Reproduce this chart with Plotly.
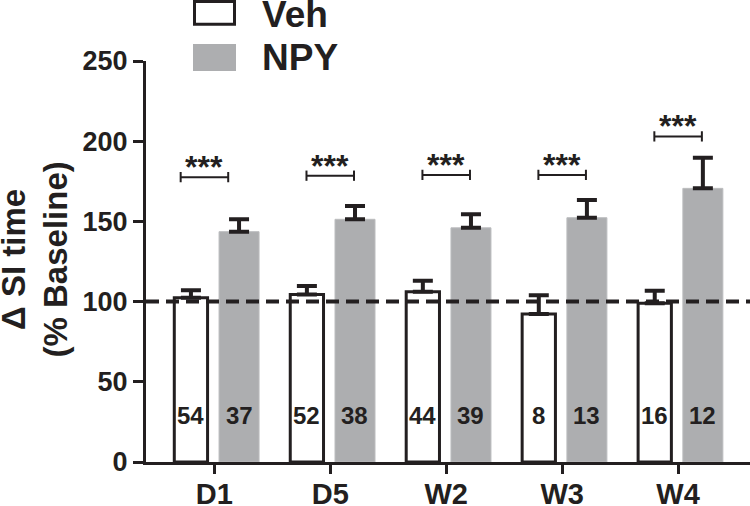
import plotly.graph_objects as go

# ---------------- data ----------------
categories = ["D1", "D5", "W2", "W3", "W4"]
veh_mean = [102.4, 104.5, 106.2, 92.3, 98.9]
veh_sem = [4.6, 5.2, 6.8, 11.7, 7.9]
npy_mean = [143.6, 151.3, 146.0, 152.3, 170.6]
npy_sem = [7.7, 8.3, 8.4, 11.0, 19.1]
veh_n = [54, 52, 44, 8, 16]
npy_n = [37, 38, 39, 13, 12]
sig_labels = ["***", "***", "***", "***", "***"]
sig_y = [177.6, 178.5, 179.0, 179.0, 203.0]
baseline = 100
y_ticks = [0, 50, 100, 150, 200, 250]

# ---------------- style ----------------
FONT = "Liberation Sans, Arial, Helvetica, sans-serif"
INK = "#231f20"
GREY = "#adaeb0"
L, R, T, B = 146, 0, 61, 44
W, H = 750, 506
PW, PH = W - L - R, H - T - B

def px_x(p):
    return (p - L) / PW

def px_y(p):
    return (H - B - p) / PH

fig = go.Figure()
fig.add_trace(go.Bar(
    x=categories, y=veh_mean, name="Veh",
    width=0.287, offset=-0.345,
    marker=dict(color="white", line=dict(color=INK, width=3)),
    error_y=dict(type="data", symmetric=False, array=veh_sem,
                 arrayminus=[0] * len(veh_sem), color=INK, thickness=4, width=10),
    showlegend=False,
))
fig.add_trace(go.Bar(
    x=categories, y=npy_mean, name="NPY",
    width=0.345, offset=0.041,
    marker=dict(color=GREY, line=dict(color="#bcbdbf", width=1)),
    error_y=dict(type="data", symmetric=False, array=npy_sem,
                 arrayminus=[0] * len(npy_sem), color=INK, thickness=4, width=10),
    showlegend=False,
))

shapes = []
annotations = []

# baseline dashed line
shapes.append(dict(type="line", xref="paper", yref="y", x0=0, x1=1,
                   y0=baseline, y1=baseline, layer="above",
                   line=dict(color=INK, width=4, dash="13px,7px")))

# significance brackets
shift = {"D1": -0.085}
half = 0.205
tick_h = 3.2
for i, c in enumerate(categories):
    cx = i + shift.get(c, 0.0)
    y = sig_y[i]
    shapes.append(dict(type="line", xref="x", yref="y", x0=cx - half, x1=cx + half,
                       y0=y, y1=y, line=dict(color=INK, width=2)))
    for xe in (cx - half, cx + half):
        shapes.append(dict(type="line", xref="x", yref="y", x0=xe, x1=xe,
                           y0=y - tick_h, y1=y + tick_h, line=dict(color=INK, width=2)))
    annotations.append(dict(x=cx, y=y, xref="x", yref="y", text=sig_labels[i],
                            showarrow=False, yanchor="middle", yshift=10,
                            font=dict(family=FONT, size=32, color=INK, weight="bold")))

# n labels in bars
n_y = 28.7
for i, c in enumerate(categories):
    annotations.append(dict(x=i, y=n_y, xref="x", yref="y", text=str(veh_n[i]),
                            showarrow=False, xshift=-23.4, yanchor="middle",
                            font=dict(family=FONT, size=24, color=INK, weight="bold")))
    annotations.append(dict(x=i, y=n_y, xref="x", yref="y", text=str(npy_n[i]),
                            showarrow=False, xshift=24.7, yanchor="middle",
                            font=dict(family=FONT, size=24, color=INK, weight="bold")))

# legend (drawn)
shapes.append(dict(type="rect", xref="paper", yref="paper",
                   x0=px_x(194.5), x1=px_x(234.5), y0=px_y(24.3), y1=px_y(1.5),
                   fillcolor="white", line=dict(color=INK, width=3)))
shapes.append(dict(type="rect", xref="paper", yref="paper",
                   x0=px_x(193), x1=px_x(236), y0=px_y(71), y1=px_y(44),
                   fillcolor=GREY, line=dict(width=0)))
annotations.append(dict(x=px_x(260), y=px_y(14), xref="paper", yref="paper",
                        text="Veh", showarrow=False, xanchor="left", yanchor="middle",
                        font=dict(family=FONT, size=37, color=INK, weight="bold")))
annotations.append(dict(x=px_x(260), y=px_y(58), xref="paper", yref="paper",
                        text="NPY", showarrow=False, xanchor="left", yanchor="middle",
                        font=dict(family=FONT, size=37, color=INK, weight="bold")))

# y axis title
annotations.append(dict(x=px_x(34.5), y=px_y(260), xref="paper", yref="paper",
                        text="\u0394 SI time<br>(% Baseline)", textangle=-90,
                        showarrow=False, xanchor="center", yanchor="middle",
                        font=dict(family=FONT, size=33, color=INK, weight="bold")))

fig.update_layout(
    template="none",
    width=W, height=H,
    margin=dict(l=L, r=R, t=T, b=B, pad=0, autoexpand=False),
    paper_bgcolor="white", plot_bgcolor="white",
    barmode="overlay",
    shapes=shapes, annotations=annotations,
    font=dict(family=FONT, color=INK),
    hovermode=False,
    xaxis=dict(type="category", categoryorder="array", categoryarray=categories,
               range=[-0.589, 4.62], showline=True, linecolor=INK, linewidth=3,
               ticks="outside", ticklen=9, tickwidth=3, tickcolor=INK,
               ticklabelstandoff=-5,
               showgrid=False, zeroline=False, automargin=False,
               tickfont=dict(family=FONT, size=29, color=INK, weight="bold")),
    yaxis=dict(range=[0, 250], tickvals=y_ticks, showline=True, linecolor=INK,
               linewidth=3, ticks="outside", ticklen=10, tickwidth=3, tickcolor=INK,
               showgrid=False, zeroline=False, automargin=False,
               tickfont=dict(family=FONT, size=27, color=INK, weight="bold")),
)

fig.write_html(
    "out.html",
    config={"displayModeBar": False, "staticPlot": True},
    post_script="document.body.style.margin='0';document.body.style.overflow='hidden';",
)
